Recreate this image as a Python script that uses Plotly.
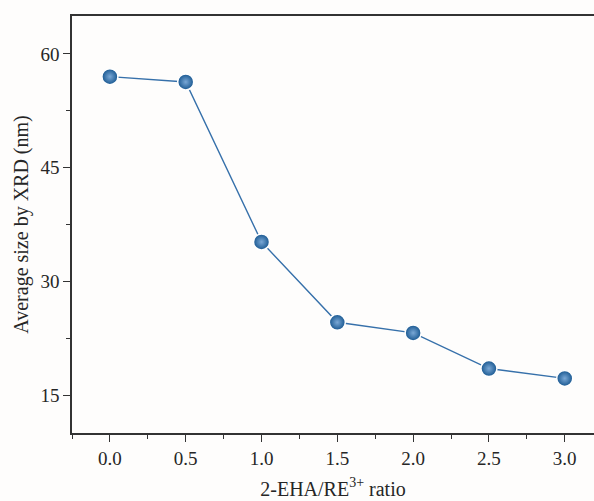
import plotly.graph_objects as go

ratio = [0.0, 0.5, 1.0, 1.5, 2.0, 2.5, 3.0]
size_nm = [57.0, 56.3, 35.2, 24.6, 23.2, 18.5, 17.2]

x_tickvals = [0.0, 0.5, 1.0, 1.5, 2.0, 2.5, 3.0]
x_ticktext = ["0.0", "0.5", "1.0", "1.5", "2.0", "2.5", "3.0"]
y_tickvals = [15, 30, 45, 60]
y_ticktext = ["15", "30", "45", "60"]

FONT = "Liberation Serif"
AX = "#333333"
TXT = "#262626"

fig = go.Figure()
fig.add_trace(go.Scatter(
    x=ratio, y=size_nm, mode="lines+markers",
    line=dict(color="#3670aa", width=1.4),
    marker=dict(size=16, color="#17568f",
                gradient=dict(type="radial", color="#7aa8d6"),
                line=dict(color="white", width=1.5)),
    showlegend=False,
))

fig.update_layout(
    width=594, height=501,
    margin=dict(l=72, r=0, t=16, b=68),
    paper_bgcolor="#fefdfc", plot_bgcolor="#fefdfc",
    font=dict(family=FONT, color=TXT),
)
fig.update_xaxes(
    range=[-0.25, 3.193], tickvals=x_tickvals, ticktext=x_ticktext,
    showgrid=False, zeroline=False,
    showline=True, linecolor=AX, linewidth=1.5, mirror=True,
    ticks="outside", ticklen=7, tickwidth=1.3, tickcolor=AX,
    minor=dict(ticks="outside", dtick=0.25, tick0=0, ticklen=4, tickwidth=1.2, tickcolor=AX, showgrid=False),
    tickfont=dict(size=19, family=FONT, color=TXT),
    title=dict(text="2-EHA/RE<sup>3+</sup> ratio", font=dict(size=20, family=FONT, color=TXT), standoff=14),
)
fig.update_yaxes(
    range=[10, 65], tickvals=y_tickvals, ticktext=y_ticktext,
    showgrid=False, zeroline=False,
    showline=True, linecolor=AX, linewidth=1.5,
    ticks="outside", ticklen=7, tickwidth=1.3, tickcolor=AX,
    minor=dict(ticks="outside", dtick=7.5, tick0=0, ticklen=4, tickwidth=1.2, tickcolor=AX, showgrid=False),
    tickfont=dict(size=19, family=FONT, color=TXT),
    title=dict(text="Average size by XRD (nm)", font=dict(size=20, family=FONT, color=TXT), standoff=6),
)

fig.write_html("out.html")
